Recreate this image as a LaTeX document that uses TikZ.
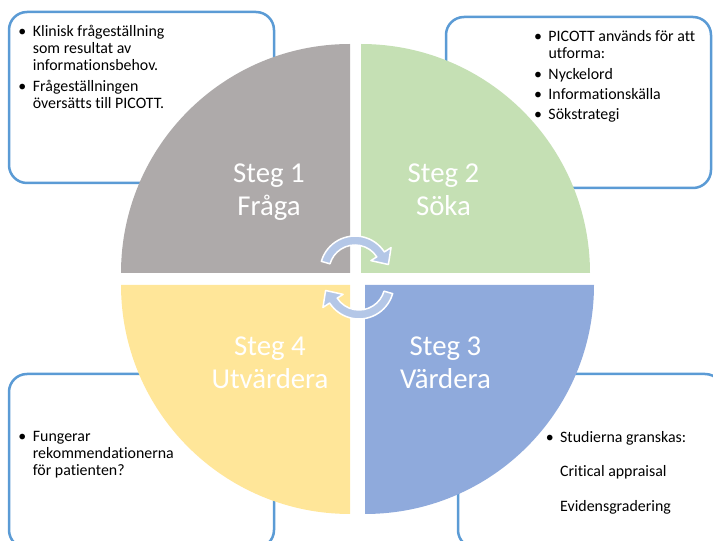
\documentclass[tikz,border=0pt]{standalone}
\usepackage{fontspec}
\setmainfont{Carlito}[Ligatures=NoCommon]
\usepackage{xcolor}
\usepackage{tikz}
\usetikzlibrary{arrows.meta,positioning}
\definecolor{boxblue}{HTML}{5B9BD5}
\definecolor{steggray}{HTML}{AEAAAA}
\definecolor{steggreen}{HTML}{C5E0B4}
\definecolor{stegyellow}{HTML}{FFE699}
\definecolor{stegblue}{HTML}{8FAADC}
\definecolor{cycleblue}{HTML}{B4C7E7}
\newcommand{\bul}{\makebox[0pt][r]{\textbullet\hspace{6.5pt}}}

\begin{document}
\begin{tikzpicture}[
    x=1pt, y=1pt,
    infobox/.style={draw=boxblue, line width=2.5pt, rounded corners=18pt, fill=white},
    % multi-line nodes sit on the baseline of their last line
    note/.style={anchor=base west, align=left, inner sep=0pt,
                 font=\fontsize{15.9}{17.2}\selectfont},
    steglabel/.style={anchor=base, align=center, inner sep=0pt, text=white,
                 font=\fontsize{28.8}{33}\selectfont},
    cyclearrow/.style={fill=cycleblue, draw=white, line width=1.5pt, line join=round}
]
    \useasboundingbox (0,0) rectangle (713,541);
    \clip (0,0) rectangle (713,541);

    % text boxes, behind the wheel
    \node[infobox, minimum width=265, minimum height=171] (box1) at (141.5,443.5) {};
    \node[infobox, minimum width=265, minimum height=171] (box2) at (578.5,438.5) {};
    \node[infobox, minimum width=265, minimum height=174] (box4) at (141.5,80) {};
    \node[infobox, minimum width=265, minimum height=174] (box3) at (590.5,80) {};

    % the four quarters
    \fill[steggray]   (350,268) -- ++(180:229) arc[start angle=180, end angle=90,  radius=229] -- cycle;
    \fill[steggreen]  (361,268) -- ++(90:229)  arc[start angle=90,  end angle=0,   radius=229] -- cycle;
    \fill[stegblue]   (365,256) -- ++(0:229)   arc[start angle=0,   end angle=-90, radius=229] -- cycle;
    \fill[stegyellow] (350,256) -- ++(-90:229) arc[start angle=-90, end angle=-180, radius=229] -- cycle;

    \node[steglabel] (steg1) at (269,325) {Steg 1\\Fråga};
    \node[steglabel] (steg2) at (443.5,325) {Steg 2\\Söka};
    \node[steglabel] (steg3) at (445.5,152) {Steg 3\\Värdera};
    \node[steglabel] (steg4) at (270,152) {Steg 4\\Utvärdera};

    % cycle arrows in the middle
    \filldraw[cyclearrow, shift={(355,270)}]
        (164:35) arc[start angle=164, end angle=33, radius=35] -- (33:43) -- (11:34)
        -- (33:19) -- (33:26) arc[start angle=33, end angle=164, radius=26] -- cycle;
    \filldraw[cyclearrow, shift={(359,257)}]
        (344:35) arc[start angle=344, end angle=213, radius=35] -- (213:43) -- (191:34)
        -- (213:19) -- (213:26) arc[start angle=213, end angle=344, radius=26] -- cycle;

    % bullet texts
    \node[note] (text1) at (32.7,432.7) {\bul Klinisk frågeställning\\som resultat av\\informationsbehov.\\[3.4pt]
                                       \bul Frågeställningen\\översätts till PICOTT.};
    \node[note] (text2) at (548.3,421) {\bul PICOTT används för att\\utforma:\\[4pt]
                                       \bul Nyckelord\\[3pt]\bul Informationskälla\\[3pt]\bul Sökstrategi};
    \node[note] (text4) at (32.7,65) {\bul Fungerar\\rekommendationerna\\för patienten?};
    \node[note] (text3) at (560,29.3) {\bul Studierna granskas:\\[17.5pt]Critical appraisal\\[17.5pt]Evidensgradering};
\end{tikzpicture}
\end{document}
